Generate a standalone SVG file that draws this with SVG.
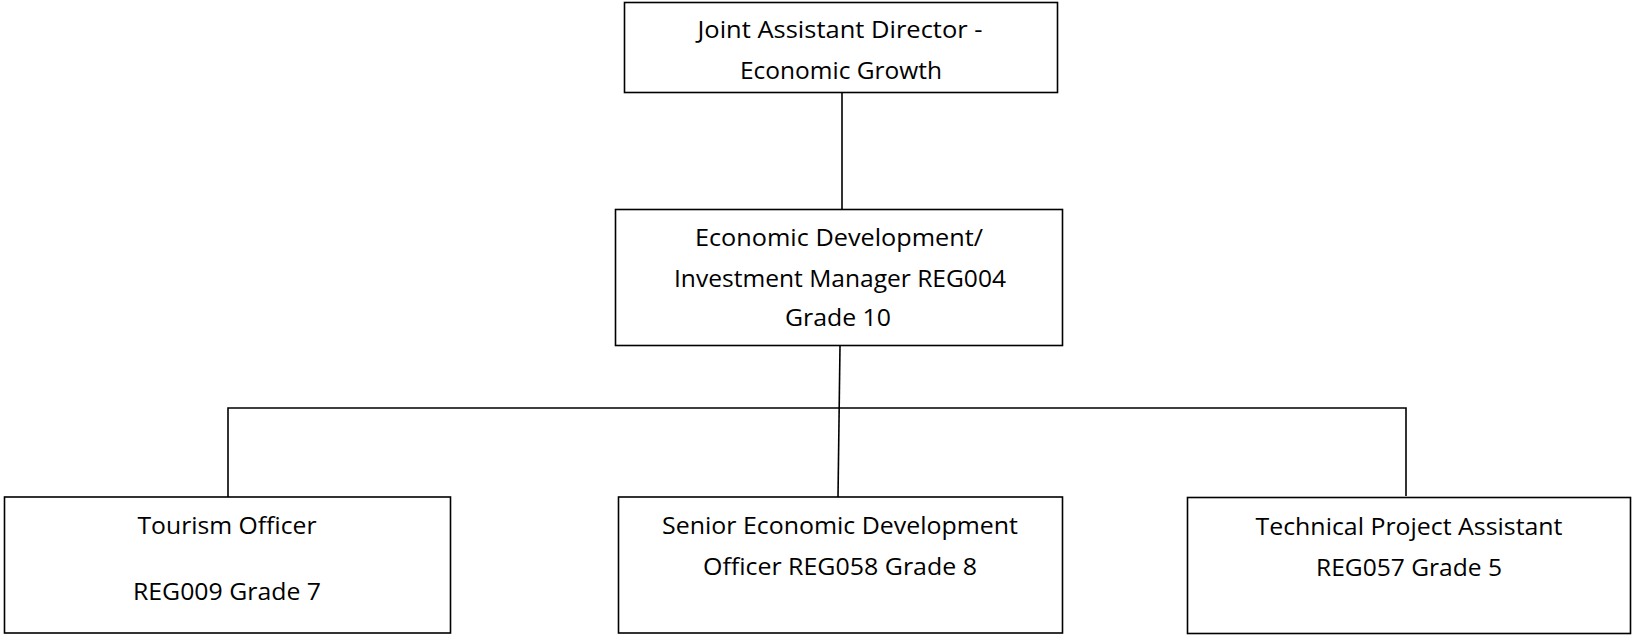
<svg xmlns="http://www.w3.org/2000/svg" width="1632" height="635" viewBox="0 0 1632 635">
<style>
.box{fill:#fff;stroke:#000;stroke-width:1.6}
.ln{stroke:#000;stroke-width:1.6;fill:none}
text{font-family:"Open Sans","Liberation Sans",sans-serif;font-size:24px;fill:#000;text-anchor:middle}
</style>
<rect width="1632" height="635" fill="#fff"/>
<g id="connectors">
<line class="ln" x1="842" y1="93" x2="842" y2="209"/>
<line class="ln" x1="840" y1="346" x2="838" y2="497"/>
<polyline class="ln" points="228,497 228,408 1406,408 1406,496"/>
</g>
<g id="n1">
<rect class="box" x="624.5" y="2.5" width="433" height="90"/>
<text x="840" y="38" textLength="285" lengthAdjust="spacingAndGlyphs">Joint Assistant Director -</text>
<text x="841" y="79" textLength="202" lengthAdjust="spacingAndGlyphs">Economic Growth</text>
</g>
<g id="n2">
<rect class="box" x="615.5" y="209.5" width="447" height="136"/>
<text x="839" y="246" textLength="288" lengthAdjust="spacingAndGlyphs">Economic Development/</text>
<text x="840" y="287" textLength="332" lengthAdjust="spacingAndGlyphs">Investment Manager REG004</text>
<text x="838" y="326" textLength="106" lengthAdjust="spacingAndGlyphs">Grade 10</text>
</g>
<g id="n3">
<rect class="box" x="4.5" y="497" width="446" height="136"/>
<text x="227" y="534" textLength="179" lengthAdjust="spacingAndGlyphs">Tourism Officer</text>
<text x="227" y="600" textLength="188" lengthAdjust="spacingAndGlyphs">REG009 Grade 7</text>
</g>
<g id="n4">
<rect class="box" x="618.5" y="497" width="444" height="136"/>
<text x="840" y="534" textLength="356" lengthAdjust="spacingAndGlyphs">Senior Economic Development</text>
<text x="840" y="575" textLength="274" lengthAdjust="spacingAndGlyphs">Officer REG058 Grade 8</text>
</g>
<g id="n5">
<rect class="box" x="1187.5" y="497.5" width="443" height="136"/>
<text x="1409" y="535" textLength="307" lengthAdjust="spacingAndGlyphs">Technical Project Assistant</text>
<text x="1409" y="576" textLength="186" lengthAdjust="spacingAndGlyphs">REG057 Grade 5</text>
</g>
</svg>
